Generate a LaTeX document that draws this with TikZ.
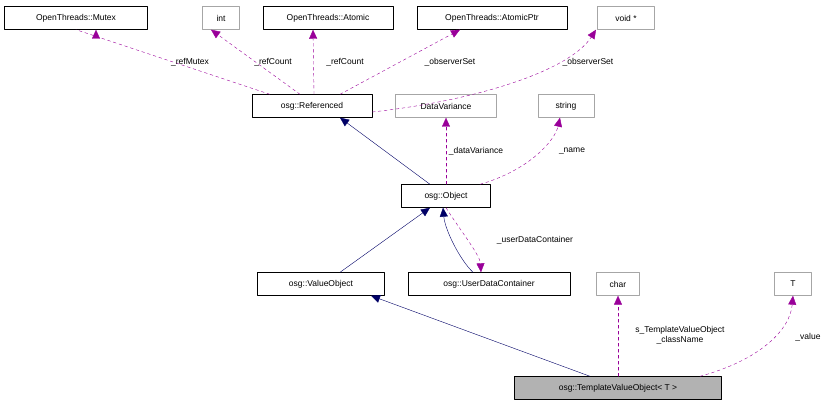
\documentclass[tikz,border=0pt]{standalone}
\usepackage{fontspec}
\setmainfont{Liberation Sans}
\usetikzlibrary{arrows.meta}

\tikzset{
  cls/.style={draw=black, font=\fontsize{8.5}{10}\selectfont, minimum height=23pt, inner sep=2pt},
  ext/.style={cls, draw=black!35},
  inh/.style={draw=blue!40!black, -{Triangle[length=9pt,width=8pt]}},
  use/.style={draw=violet!80!magenta, dashed, -{Triangle[length=9pt,width=8pt]}},
  lbl/.style={font=\fontsize{8.5}{10}\selectfont, align=center, inner sep=1pt}
}

\begin{document}
\begin{tikzpicture}[line cap=round,line join=round,x=1pt,y=-1pt]
\useasboundingbox (0,0) rectangle (833,409);

\node[cls, minimum width=143pt] (mutex) at (76,18) {OpenThreads::Mutex};
\node[ext, minimum width=37pt] (int) at (221,18) {int};
\node[cls, minimum width=130pt] (atomic) at (328,18) {OpenThreads::Atomic};
\node[cls, minimum width=150pt] (atomicptr) at (492,18) {OpenThreads::AtomicPtr};
\node[ext, minimum width=57pt] (voidp) at (626,18) {void *};
\node[cls, minimum width=120pt] (ref) at (312,106) {osg::Referenced};
\node[ext, minimum width=101pt] (dv) at (446,106) {DataVariance};
\node[ext, minimum width=56pt] (str) at (566,106) {string};
\node[cls, minimum width=89pt] (obj) at (446,196) {osg::Object};
\node[cls, minimum width=127pt] (vo) at (321,284) {osg::ValueObject};
\node[cls, minimum width=162pt] (udc) at (489,284) {osg::UserDataContainer};
\node[ext, minimum width=43pt] (chr) at (618,284) {char};
\node[ext, minimum width=37pt] (T) at (793,284) {T};
\node[cls, fill=black!30, minimum width=207pt] (tvo) at (618,388) {osg::TemplateValueObject< T >};

% members of Referenced
\draw[use] (ref.north west) ++(18,0) -- (mutex.south) ++(20,0) node[lbl] at (190,62) {\_refMutex};
\draw[use] ([xshift=-12pt]ref.north) -- ([xshift=-10pt]int.south);
\node[lbl] at (273,62) {\_refCount};
\draw[use] ([xshift=2pt]ref.north) -- ([xshift=-15pt]atomic.south);
\node[lbl] at (345,62) {\_refCount};
\draw[use] ([xshift=28pt]ref.north) -- ([xshift=-32pt]atomicptr.south);
\node[lbl] at (450,62) {\_observerSet};
\draw[use] ([yshift=-6pt]ref.east) .. controls (480,100) and (570,70) .. ([xshift=-30pt]voidp.south);
\node[lbl] at (588,62) {\_observerSet};

% Object
\draw[inh] ([xshift=-16pt]obj.north) -- ([xshift=28pt]ref.south);
\draw[use] (obj.north) -- (dv.south);
\node[lbl] at (476,151) {\_dataVariance};
\draw[use] ([xshift=34pt]obj.north) .. controls (530,170) and (555,140) .. ([xshift=-6pt]str.south);
\node[lbl] at (572,151) {\_name};
\draw[inh] ([xshift=19pt]vo.north) -- ([xshift=-16pt]obj.south);
\draw[inh] ([xshift=-16pt]udc.north) .. controls (460,260) and (445,230) .. ([xshift=-3pt]obj.south);
\draw[use] (obj.south) .. controls (460,230) and (480,255) .. ([xshift=-8pt]udc.north);
\node[lbl] at (535,240) {\_userDataContainer};

% TemplateValueObject
\draw[inh] ([xshift=-28pt]tvo.north) -- ([xshift=50pt]vo.south);
\draw[use] (tvo.north) -- (chr.south);
\node[lbl] at (680,335) {s\_TemplateValueObject\\\_className};
\draw[use] ([xshift=82pt]tvo.north) .. controls (760,360) and (790,330) .. (T.south);
\node[lbl] at (808,337) {\_value};
\end{tikzpicture}
\end{document}
